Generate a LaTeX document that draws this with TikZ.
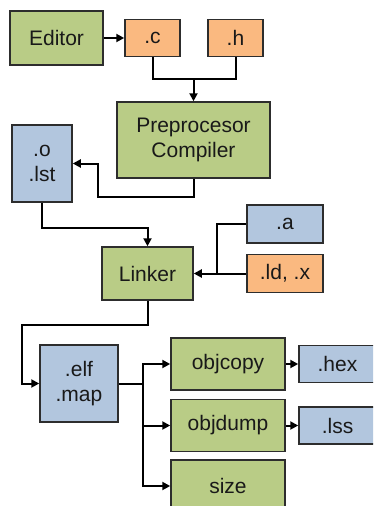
\documentclass[tikz,border=0pt]{standalone}
\usepackage{fontspec}
\setmainfont{Liberation Sans}
\usetikzlibrary{arrows.meta}
\definecolor{toolgreen}{RGB}{185,204,134}
\definecolor{srcorange}{RGB}{250,185,128}
\definecolor{outblue}{RGB}{178,198,222}
\definecolor{boxline}{RGB}{45,45,45}
\begin{document}
\begin{tikzpicture}[x=1pt,y=-1pt,
    box/.style={draw=boxline,line width=1.5pt,inner sep=0pt,align=center,
      font=\fontsize{21}{25}\selectfont,text=black!90},
    tool/.style={box,fill=toolgreen},
    srcfile/.style={box,fill=srcorange},
    outfile/.style={box,fill=outblue},
    wire/.style={line width=2pt,black},
    arr/.style={wire,-{Triangle[length=8pt,width=8pt]}}]
  \useasboundingbox (0,0) rectangle (373,506);
  \begin{scope}
  \clip (0,0) rectangle (373,506);
  % sources and compiler
  \node[tool,minimum width=93pt,minimum height=54pt] (editor) at (56.5,38) {Editor};
  \node[srcfile,minimum width=55pt,minimum height=37pt] (c) at (152.5,38) {.c};
  \node[srcfile,minimum width=55pt,minimum height=37pt] (h) at (235.5,38) {.h};
  \node[tool,minimum width=153pt,minimum height=76pt] (pc) at (193.5,140) {Preprocesor\\Compiler};
  \node[outfile,minimum width=60pt,minimum height=77pt] (o) at (42,163.5) {.o\\.lst};
  % linker
  \node[tool,minimum width=91pt,minimum height=53pt] (linker) at (147.5,273.5) {Linker};
  \node[outfile,minimum width=76pt,minimum height=38pt] (a) at (285,224) {.a};
  \node[srcfile,minimum width=76pt,minimum height=38pt] (ld) at (285,273.5) {.ld, .x};
  % output tools
  \node[outfile,minimum width=78pt,minimum height=77pt] (elf) at (79,383.5) {.elf\\.map};
  \node[tool,minimum width=114pt,minimum height=52pt] (objcopy) at (228,364) {objcopy};
  \node[tool,minimum width=114pt,minimum height=52pt] (objdump) at (228,425.5) {objdump};
  \node[tool,minimum width=114pt,minimum height=52pt] (size) at (228,486) {size};
  \node[outfile,minimum width=77pt,minimum height=37pt] (hex) at (337.5,364) {.hex};
  \node[outfile,minimum width=77pt,minimum height=37pt] (lss) at (337.5,425.5) {.lss};
  % bends
  \coordinate (chjoin) at (193.5,79);
  \coordinate (pcbend) at (98,197);
  \coordinate (obend) at (147.5,228);
  \coordinate (ajoin) at (217,273.5);
  \coordinate (lkbend) at (22,325);
  \coordinate (fork) at (143,383.5);
  % connectors
  \draw[arr] (editor.east) -- (c.west);
  \draw[wire] (c.south) |- (chjoin) -| (h.south);
  \draw[arr] (chjoin) -- (pc.north);
  \draw[arr] (pc.south) |- (pcbend) |- (o.east);
  \draw[arr] (o.south) |- (obend) -- (linker.north);
  \draw[wire] (a.west) -| (ajoin);
  \draw[arr] (ld.west) -- (linker.east);
  \draw[arr] (linker.south) |- (lkbend) |- (elf.west);
  \draw[wire] (elf.east) -- (fork);
  \draw[arr] (fork) |- (objcopy.west);
  \draw[arr] (fork) |- (objdump.west);
  \draw[arr] (fork) |- (size.west);
  \draw[arr] (objcopy.east) -- (hex.west);
  \draw[arr] (objdump.east) -- (lss.west);
  \end{scope}
\end{tikzpicture}
\end{document}
